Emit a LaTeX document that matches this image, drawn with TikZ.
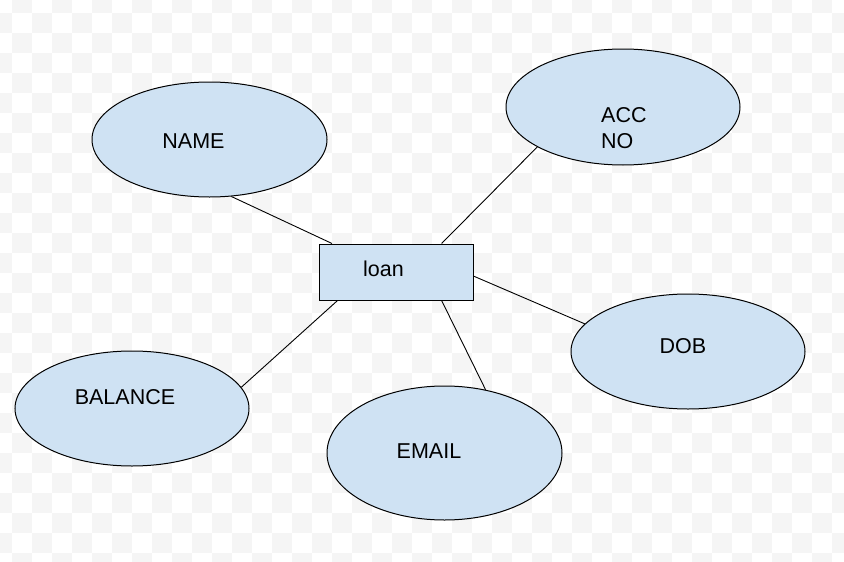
\documentclass[tikz,border=0pt]{standalone}
\usepackage{fontspec}
\setmainfont{Liberation Sans}
\usetikzlibrary{shapes.geometric}
\definecolor{entfill}{HTML}{CFE2F3}
\definecolor{checker}{HTML}{F5F5F5}
\begin{document}
\begin{tikzpicture}[x=1pt,y=-1pt,
  attr/.style={ellipse,draw=black,line width=1pt,fill=entfill,inner sep=0pt,
    minimum width=235pt,minimum height=115pt},
  entity/.style={rectangle,draw=black,line width=1pt,fill=entfill,inner sep=0pt,
    minimum width=154pt,minimum height=56pt},
  lbl/.style={inner sep=0pt,font=\fontsize{21.5}{26}\selectfont},
  conn/.style={draw=black,line width=0.9pt}]
\useasboundingbox (0,0) rectangle (844,562);
\fill[white] (0,0) rectangle (844,562);
\begin{scope}
\clip (0,0) rectangle (844,562);
\foreach \j in {0,2,...,28}{\foreach \i in {1,3,...,43}{\fill[checker] (-8+20*\i,-7+20*\j) rectangle ++(20,20);}}
\foreach \j in {1,3,...,29}{\foreach \i in {0,2,...,44}{\fill[checker] (-8+20*\i,-7+20*\j) rectangle ++(20,20);}}
\end{scope}
% nodes
\node[entity] (loan) at (396,272) {};
\node[attr] (name) at (209.5,139.5) {};
\node[attr,minimum width=234pt,minimum height=116pt] (acc) at (623,107) {};
\node[attr,minimum width=234pt] (dob) at (688,351.5) {};
\node[attr,minimum width=234pt] (bal) at (132,408.5) {};
\node[attr,minimum height=134pt] (email) at (444.5,453) {};
% labels
\node[lbl] (loantxt) at (383.5,269.3) {loan};
\node[lbl] (nametxt) at (193.5,140.8) {NAME};
\node[lbl,align=left,anchor=west] (acctxt) at (601,128) {ACC\\NO};
\node[lbl] (dobtxt) at (683,345.8) {DOB};
\node[lbl] (baltxt) at (125,397.5) {BALANCE};
\node[lbl] (emailtxt) at (429,450.8) {EMAIL};
% connectors
\draw[conn] (name.-69.2) -- (loan.156);
\draw[conn] (acc.205.2) -- (loan.32.5);
\draw[conn] (dob.165.5) -- (loan.-3);
\draw[conn] (bal.11.7) -- (loan.-154.4);
\draw[conn] (email.57.7) -- (loan.-32.5);
\end{tikzpicture}
\end{document}
